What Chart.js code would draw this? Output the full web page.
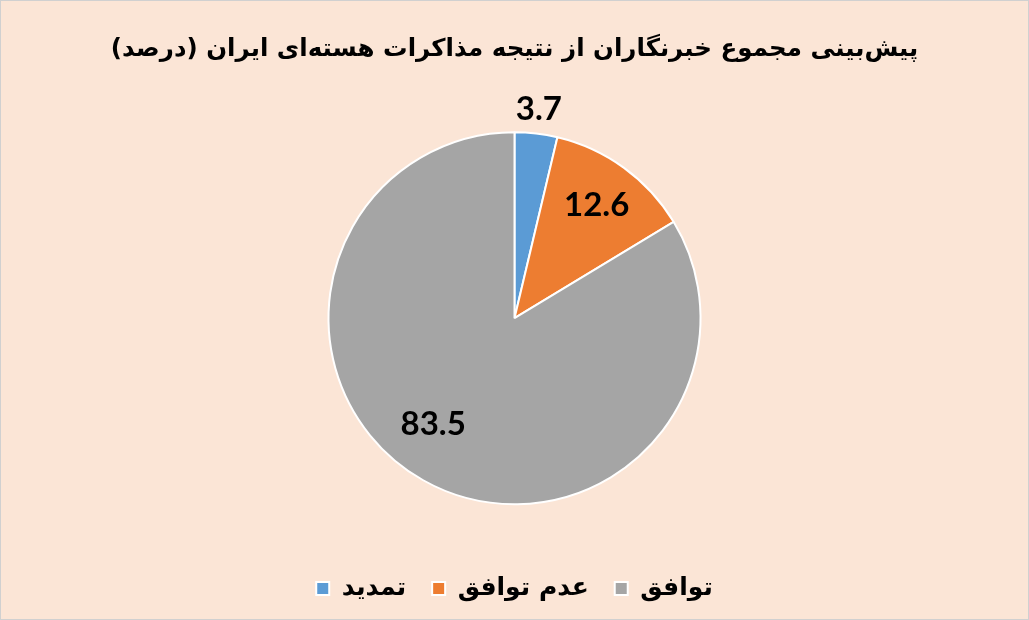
<!DOCTYPE html>
<html lang="fa">
<head>
<meta charset="UTF-8">
<title>pie</title>
<script src="https://cdn.jsdelivr.net/npm/chart.js"></script>
<style>
    html, body { margin: 0; padding: 0; background: #fbe5d6; }
    #wrap { width: 1027px; height: 618px; border: 1px solid #d0d0d0; }
</style>
</head>
<body>
<div id="wrap"><canvas id="pie" width="1027" height="618"></canvas></div>
<script>
    // data
    const labels = ['تمدید', 'عدم توافق', 'توافق'];
    const values = [3.7, 12.6, 83.5];
    const colors = ['#5b9bd5', '#ed7d31', '#a5a5a5'];
    const titleText = 'پیش‌بینی مجموع خبرنگاران از نتیجه مذاکرات هسته‌ای ایران (درصد)';

    // where each number sits: fraction of the radius, and a nudge in degrees
    const labelRadius = [1.13, 0.75, 0.72];
    const labelShift = [0, 0, 8];

    const numberLabels = {
        id: 'numberLabels',
        afterDatasetsDraw(chart) {
            let c = chart.ctx;
            let meta = chart.getDatasetMeta(0);
            c.save();
            c.font = 'bold 33px Lato, "Liberation Sans", sans-serif';
            c.fillStyle = '#000';
            c.textAlign = 'center';
            c.textBaseline = 'middle';
            meta.data.forEach((arc, i) => {
                let mid = (arc.startAngle + arc.endAngle) / 2 + labelShift[i] * Math.PI / 180;
                let r = arc.outerRadius * labelRadius[i];
                let x = arc.x + Math.cos(mid) * r;
                let y = arc.y + Math.sin(mid) * r;
                c.fillText(values[i].toFixed(1), x, y);
            });
            c.restore();
        }
    };

    new Chart(document.getElementById('pie'), {
        type: 'pie',
        data: {
            labels: labels,
            datasets: [{
                data: values,
                backgroundColor: colors,
                borderColor: '#ffffff',
                borderWidth: 2,
                radius: 186
            }]
        },
        options: {
            responsive: false,
            animation: false,
            layout: { padding: { top: 0, bottom: 8 } },
            plugins: {
                title: {
                    display: true,
                    text: titleText,
                    color: '#000',
                    font: { family: '"DejaVu Sans"', size: 24.5, weight: 'bold' },
                    padding: { top: 34, bottom: 22 }
                },
                legend: {
                    position: 'bottom',
                    labels: {
                        color: '#000',
                        font: { family: '"DejaVu Sans"', size: 25, weight: 'bold' },
                        boxWidth: 13,
                        boxHeight: 13,
                        padding: 26
                    }
                },
                tooltip: { enabled: false }
            }
        },
        plugins: [numberLabels]
    });
</script>
</body>
</html>
